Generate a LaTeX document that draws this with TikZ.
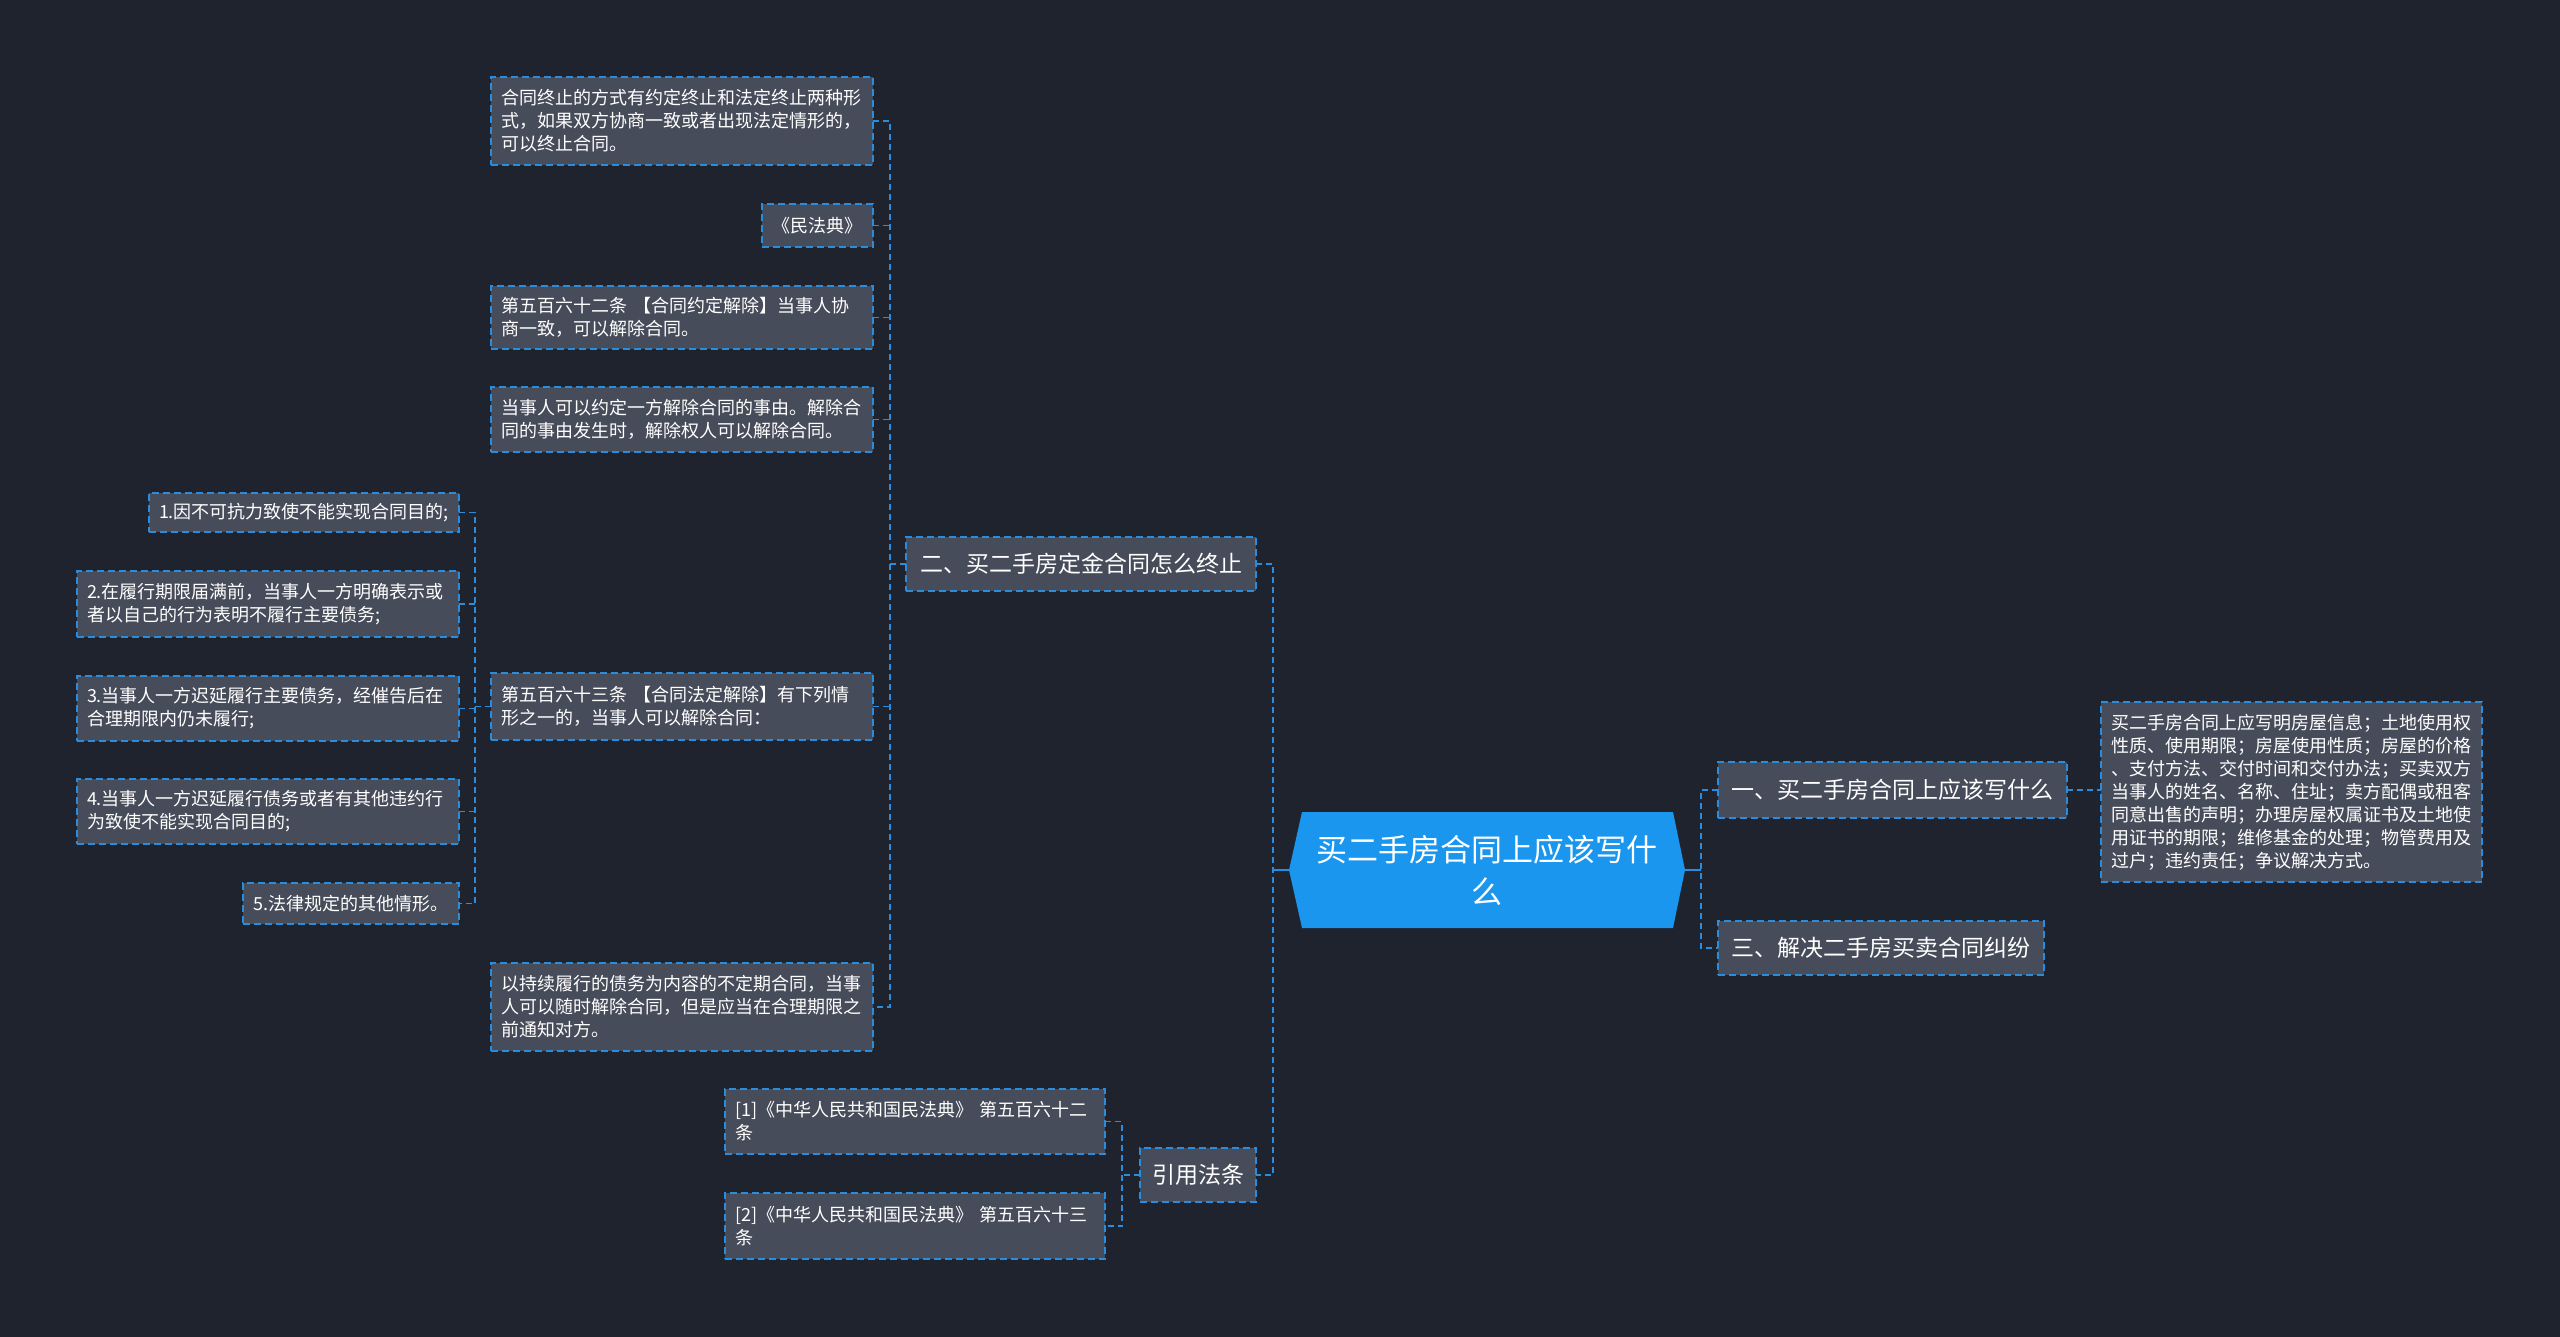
\documentclass[tikz,border=0pt]{standalone}
\usepackage{fontspec}
\newfontfamily\cjk{Noto Sans CJK SC}
\usetikzlibrary{calc}
\definecolor{bgc}{HTML}{1F232E}
\definecolor{nodec}{HTML}{474C5A}
\definecolor{linec}{HTML}{2A8CDC}
\definecolor{rootc}{HTML}{1A96EE}
\begin{document}
\begin{tikzpicture}[x=1pt,y=-1pt,
  box/.style={draw=linec, fill=nodec, line width=1.6pt, dash pattern=on 7pt off 4pt, text=white, inner xsep=10pt, inner ysep=0pt, outer sep=0pt},
  leaf/.style={box, font=\cjk\fontsize{18}{23}\selectfont, align=left},
  leafone/.style={box, font=\cjk\fontsize{18}{23}\selectfont, align=center},
  branch/.style={box, font=\cjk\fontsize{23}{28}\selectfont, align=center},
  conn/.style={draw=linec, line width=1.6pt, dash pattern=on 6pt off 4pt},
  stub/.style={draw=linec, line width=1.8pt},
]
\fill[bgc] (0,0) rectangle (2560,1337);
\useasboundingbox (0,0) rectangle (2560,1337);

% root
\fill[rootc] (1289,870) -- (1302,812) -- (1673,812) -- (1685,870) -- (1673,928) -- (1302,928) -- cycle;
\node[minimum width=396pt, minimum height=116pt, inner sep=0pt, outer sep=0pt, text=white, align=center, font=\cjk\fontsize{31}{42}\selectfont] (root) at (1487,870) {买二手房合同上应该写什\\么};

% right branches
\node[branch, minimum width=349pt, minimum height=56pt] (r1) at (1892.5,790) {一、买二手房合同上应该写什么};
\node[branch, minimum width=326pt, minimum height=54pt] (r3) at (1881,948) {三、解决二手房买卖合同纠纷};
\node[leaf, text width=361pt, minimum height=180pt] (r1a) at (2291.5,792) {买二手房合同上应写明房屋信息；土地使用权\\性质、使用期限；房屋使用性质；房屋的价格\\、支付方法、交付时间和交付办法；买卖双方\\当事人的姓名、名称、住址；卖方配偶或租客\\同意出售的声明；办理房屋权属证书及土地使\\用证书的期限；维修基金的处理；物管费用及\\过户；违约责任；争议解决方式。};

% left branches
\node[branch, minimum width=350pt, minimum height=54pt] (l2) at (1081,564) {二、买二手房定金合同怎么终止};
\node[branch, minimum width=116pt, minimum height=54pt] (q) at (1198,1175) {引用法条};

% children of l2
\node[leaf, text width=362pt, minimum height=88pt] (c1) at (682,121) {合同终止的方式有约定终止和法定终止两种形\\式，如果双方协商一致或者出现法定情形的，\\可以终止合同。};
\node[leafone, minimum width=111pt, minimum height=43pt] (c2) at (817.5,225.5) {《民法典》};
\node[leaf, text width=362pt, minimum height=63pt] (c3) at (682,317.5) {第五百六十二条~【合同约定解除】当事人协\\商一致，可以解除合同。};
\node[leaf, text width=362pt, minimum height=65pt] (c4) at (682,419.5) {当事人可以约定一方解除合同的事由。解除合\\同的事由发生时，解除权人可以解除合同。};
\node[leaf, text width=362pt, minimum height=67pt] (c5) at (682,706.5) {第五百六十三条~【合同法定解除】有下列情\\形之一的，当事人可以解除合同：};
\node[leaf, text width=362pt, minimum height=88pt] (c6) at (682,1007) {以持续履行的债务为内容的不定期合同，当事\\人可以随时解除合同，但是应当在合理期限之\\前通知对方。};

% children of c5
\node[leafone, minimum width=310pt, minimum height=39pt] (d1) at (304,512.5) {1.因不可抗力致使不能实现合同目的;};
\node[leaf, text width=362pt, minimum height=66pt] (d2) at (268,604) {2.在履行期限届满前，当事人一方明确表示或\\者以自己的行为表明不履行主要债务;};
\node[leaf, text width=362pt, minimum height=65pt] (d3) at (268,708.5) {3.当事人一方迟延履行主要债务，经催告后在\\合理期限内仍未履行;};
\node[leaf, text width=362pt, minimum height=65pt] (d4) at (268,811.5) {4.当事人一方迟延履行债务或者有其他违约行\\为致使不能实现合同目的;};
\node[leafone, minimum width=216pt, minimum height=41pt] (d5) at (351,903.5) {5.法律规定的其他情形。};

% children of q
\node[leaf, text width=360pt, minimum height=65pt] (e1) at (915,1121.5) {[1]《中华人民共和国民法典》~第五百六十二\\条};
\node[leaf, text width=360pt, minimum height=66pt] (e2) at (915,1226) {[2]《中华人民共和国民法典》~第五百六十三\\条};

% connectors: root
\draw[stub] (root.east) -- ++(16,0);
\draw[stub] (root.west) -- ++(-16,0);
\draw[conn] (r1.west) -- ++(-17,0) |- (r3.west);
\draw[conn] (l2.east) -- ++(17,0) |- (q.east);
\draw[conn] (r1.east) -- (r1.east -| r1a.west);

% connectors: l2
\draw[conn] (l2.west) -- ++(-16,0);
\draw[conn] (c1.east) -- ++(17,0) |- (c6.east);
\draw[conn] (c2.east) -- ++(17,0);
\draw[conn] (c3.east) -- ++(17,0);
\draw[conn] (c4.east) -- ++(17,0);
\draw[conn] (c5.east) -- ++(17,0);

% connectors: c5
\draw[conn] (c5.west) -- ++(-16,0);
\draw[conn] (d1.east) -- ++(16,0) |- (d5.east);
\draw[conn] (d2.east) -- ++(16,0);
\draw[conn] (d3.east) -- ++(16,0);
\draw[conn] (d4.east) -- ++(16,0);

% connectors: q
\draw[conn] (q.west) -- ++(-18,0);
\draw[conn] (e1.east) -- ++(17,0) |- (e2.east);
\end{tikzpicture}
\end{document}
